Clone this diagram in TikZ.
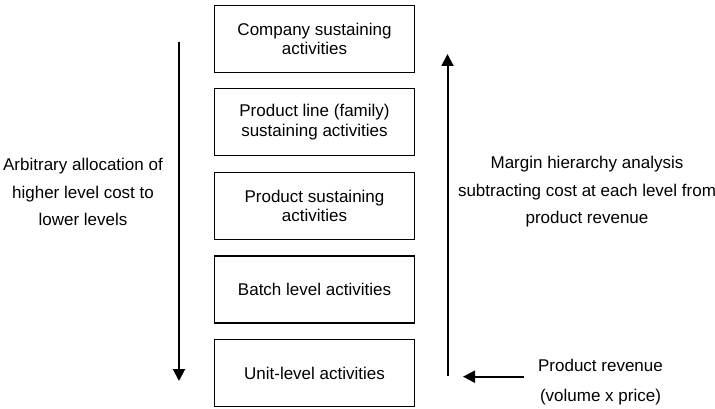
\documentclass[tikz,border=0pt]{standalone}
\usepackage{fontspec}
\setmainfont{Liberation Sans}
\usetikzlibrary{arrows.meta}
\begin{document}
\begin{tikzpicture}[x=1pt,y=-1pt,
  actbox/.style={draw,line width=1.3pt,minimum width=200pt,minimum height=67pt,inner sep=0pt,align=center,
    font=\fontsize{17}{19.5}\selectfont},
  sidetext/.style={inner sep=0pt,align=center,font=\fontsize{17}{27.5}\selectfont},
  bigarrow/.style={line width=2pt,-{Triangle[width=12pt,length=12pt]}}]
\useasboundingbox (0,0) rectangle (715,409);
\node[actbox] (b1) at (314.5,38.7) {Company sustaining\\activities};
\node[actbox] (b2) at (314.5,122.1) {Product line (family)\\sustaining activities};
\node[actbox] (b3) at (314.5,205.8) {Product sustaining\\activities};
\node[actbox] (b4) at (314.5,289.4) {Batch level activities};
\node[actbox] (b5) at (314.5,373.3) {Unit-level activities};
\node[sidetext] (lt) at (83,192) {Arbitrary allocation of\\higher level cost to\\lower levels};
\node[sidetext] (rt) at (587,192) {Margin hierarchy analysis\\subtracting cost at each level from\\product revenue};
\node[sidetext,font=\fontsize{17}{29.5}\selectfont] (rev) at (600.5,382) {Product revenue\\(volume x price)};
\coordinate (l1) at (179,41.7);
\coordinate (l2) at (179,381);
\coordinate (r1) at (447.5,376);
\coordinate (r2) at (447.5,54);
\coordinate (h1) at (524,376.7);
\coordinate (h2) at (463,376.7);
\draw[bigarrow] (l1) -- (l2);
\draw[bigarrow] (r1) -- (r2);
\draw[bigarrow] (h1) -- (h2);
\end{tikzpicture}
\end{document}
